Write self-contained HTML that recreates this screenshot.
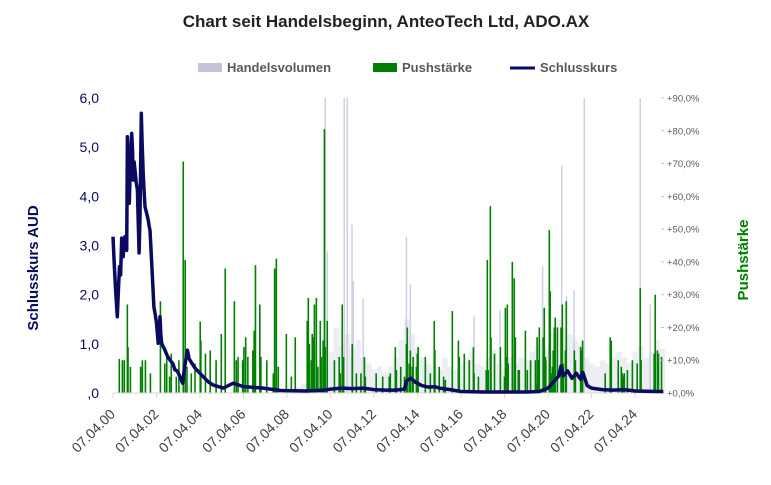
<!DOCTYPE html>
<html><head><meta charset="utf-8"><style>
body{margin:0;background:#fff;}
svg text{font-family:"Liberation Sans",sans-serif;}
</style></head><body>
<svg id="chart" width="771" height="480" viewBox="0 0 771 480" xmlns="http://www.w3.org/2000/svg">
<text x="386" y="27" text-anchor="middle" font-size="17" font-weight="bold" fill="#222">Chart seit Handelsbeginn, AnteoTech Ltd, ADO.AX</text>
<g font-size="13" font-weight="bold" fill="#595959">
<rect x="198" y="63" width="24" height="9" fill="#c4c3dc"/>
<text x="227" y="72">Handelsvolumen</text>
<rect x="373" y="63" width="24" height="9" fill="#008000"/>
<text x="402" y="72">Pushstärke</text>
<line x1="510" y1="68" x2="535" y2="68" stroke="#0a0a60" stroke-width="3"/>
<text x="540" y="72">Schlusskurs</text>
</g>
<text transform="translate(38,268) rotate(-90)" text-anchor="middle" font-size="15" font-weight="bold" fill="#0a0a60">Schlusskurs AUD</text>
<text transform="translate(748,260) rotate(-90)" text-anchor="middle" font-size="15" font-weight="bold" fill="#008000">Pushstärke</text>
<g id="vol"></g><g id="push"></g><g id="axes"></g><g id="price"></g>
</svg>
<script>
const xTickLabels=["07.04.00","07.04.02","07.04.04","07.04.06","07.04.08","07.04.10","07.04.12","07.04.14","07.04.16","07.04.18","07.04.20","07.04.22","07.04.24"];
const leftTicks=[0,1,2,3,4,5,6];
const leftTickLabels=[",0","1,0","2,0","3,0","4,0","5,0","6,0"];
const rightTicks=[0,10,20,30,40,50,60,70,80,90];
const priceYears=[0,0.06,0.12,0.2,0.25,0.3,0.35,0.4,0.44,0.47,0.51,0.55,0.6,0.63,0.66,0.7,0.75,0.8,0.86,0.9,0.93,0.97,1.01,1.06,1.12,1.16,1.2,1.24,1.3,1.34,1.39,1.43,1.47,1.55,1.62,1.66,1.7,1.74,1.78,1.83,1.88,1.94,2.0,2.04,2.08,2.12,2.16,2.2,2.24,2.3,2.39,2.5,2.62,2.75,2.85,2.95,3.08,3.2,3.3,3.42,3.5,3.62,3.75,3.85,4.0,4.15,4.4,4.61,5.07,5.53,5.99,6.9,7.7,8.9,9.7,10.0,10.5,11,11.5,12,12.5,13,13.4,13.5,13.7,13.9,14.2,14.5,14.8,15,15.5,16,17,18,19,19.6,20,20.3,20.5,20.6,20.7,20.9,21.1,21.3,21.5,21.6,21.8,22.0,22.5,23,23.5,24,25,25.3];
const priceValues=[3.18,2.6,2.09,1.55,2.09,2.57,2.4,3.15,2.9,2.77,3.1,3.18,2.95,2.9,5.21,4.6,3.86,4.7,5.28,4.9,4.33,4.7,4.53,4.3,4.13,3.5,2.85,3.59,5.69,5.1,4.47,4.1,3.79,3.65,3.52,3.4,3.31,3.0,2.64,2.2,1.75,1.6,1.42,1.2,1.01,1.3,1.55,1.2,1.01,0.95,0.87,0.75,0.67,0.6,0.47,0.45,0.33,0.2,0.55,0.87,0.7,0.61,0.52,0.47,0.4,0.33,0.22,0.16,0.1,0.2,0.13,0.1,0.05,0.04,0.06,0.08,0.1,0.09,0.1,0.07,0.06,0.06,0.08,0.25,0.3,0.22,0.15,0.12,0.13,0.1,0.07,0.03,0.02,0.02,0.02,0.03,0.1,0.25,0.35,0.55,0.35,0.45,0.3,0.4,0.28,0.42,0.15,0.1,0.07,0.06,0.07,0.04,0.03,0.03];
const pushYears=[0.29,0.43,0.52,0.66,0.69,0.8,1.27,1.35,1.49,1.72,2.18,2.38,2.47,2.6,2.68,2.91,3.03,3.23,3.32,3.4,3.6,3.77,4.01,4.04,4.25,4.47,4.74,4.98,5.16,5.58,5.67,5.75,5.96,6.02,6.1,6.2,6.43,6.49,6.55,6.75,6.8,7.07,7.37,7.43,7.51,7.6,7.97,8.2,8.38,8.93,8.98,9.03,9.12,9.16,9.2,9.26,9.35,9.42,9.53,9.58,9.66,9.72,9.76,9.85,10.18,10.4,10.45,10.54,10.6,11.0,11.19,11.4,11.56,11.6,12.1,12.4,12.7,12.75,12.98,13.03,13.23,13.4,13.49,13.53,13.62,13.67,13.76,13.8,13.95,13.99,14.03,14.36,14.59,14.77,14.8,15.0,15.2,15.28,15.6,15.88,15.92,16.15,16.38,16.57,16.6,16.8,17.16,17.21,17.25,17.35,17.38,17.54,17.81,18.0,18.04,18.08,18.13,18.17,18.36,18.45,18.5,18.63,18.68,18.96,19.05,19.2,19.42,19.47,19.5,19.56,19.6,19.78,19.83,19.88,19.9,20.06,20.1,20.15,20.2,20.24,20.29,20.33,20.43,20.6,20.66,20.7,20.8,20.84,21.21,21.26,21.5,21.55,21.59,22.63,22.86,22.91,23.23,23.37,23.42,23.46,23.51,23.65,23.88,24.1,24.24,24.28,24.88,24.93,25.03,25.08,25.22];
const pushValues=[10.4,10,10,27,14,8,8,10,10,6,28,9,12,5,12,5,10,70.6,40.6,8,6,9,21.8,16,12,13,10,18,38,28,10,11,10,14,17,11,13,19,39,27,11,10,6,38,41,8,18,5,17,22,29,15,10,18,17,27,29,8,22,11,16,80.5,14,22,10,11,6,27,11,15,6,6,11,5,6,5,5,6,14,7,8,5,15,20,9,13,8,11,8,12,14,11,6,22,13,8,5,4,25,16,11,12,10,14,6,5,7,40.6,7,57,17,12,14,5,26,11,27,9,40,35,17,7,7,19,7,10,10,3,17,10,20,17,26,11,10,49.7,31,6,8,13,20,23,20,20,27,9,13,28,13,10,14,13,16,6,17,16,10,8,6,5,6,7,10,9,32,10,12,30,13,12,11];
const volYears=[8.5,8.75,9,9.25,9.5,9.75,10,10.25,10.5,10.75,11,11.25,11.5,11.75,12,12.25,12.5,12.75,13,13.25,13.5,13.75,14,14.25,14.5,14.75,15,15.25,15.5,15.75,16,16.25,16.5,16.75,17,17.25,17.5,17.75,18,18.25,18.5,18.75,19,19.25,19.5,19.75,20,20.25,20.5,20.75,21,21.25,21.5,21.75,22,22.25,22.5,22.75,23,23.25,23.5,23.75,24,24.25,24.5,24.75,25,25.25];
const volValues=[2,3,4,6,10,18,14,22,16,20,15,18,12,10,8,9,7,9,12,18,25,20,15,12,10,9,8,12,9,8,10,12,14,10,9,12,15,10,8,12,10,12,11,14,16,18,15,20,25,22,20,18,16,12,10,9,11,10,12,14,12,10,14,16,12,14,18,15];
const volSpikeYears=[9.76,9.85,10.63,10.77,10.99,11.05,11.5,13.49,13.67,16.6,17.8,19.75,20.63,20.85,21.2,21.67,24.24,24.7];
const volSpikeValues=[100,48,100,100,57,38,32,53,37,26,28,43,77,33,35,100,100,30];

const NS="http://www.w3.org/2000/svg";
const X0=113,PXY=21.75,Y0=393,YTOP=98;
const xs=y=>X0+y*PXY;
const yPrice=v=>Y0-v/6*(Y0-YTOP);
const yPct=v=>Y0-v/90*(Y0-YTOP);
function mk(tag,attrs,parent){const e=document.createElementNS(NS,tag);for(const k in attrs)e.setAttribute(k,attrs[k]);parent.appendChild(e);return e;}
const axes=document.getElementById('axes'),vol=document.getElementById('vol'),push=document.getElementById('push'),price=document.getElementById('price');
volYears.forEach((yr,i)=>{const r=mk('rect',{x:xs(yr)-2.5,y:yPct(volValues[i]*0.9),width:5.5,height:Y0-yPct(volValues[i]*0.9),fill:'#c4c3dc',opacity:0.3},vol);

});
volSpikeYears.forEach((yr,i)=>{const r=mk('rect',{x:xs(yr)-0.75,y:yPct(volSpikeValues[i]*0.9),width:1.5,height:Y0-yPct(volSpikeValues[i]*0.9),fill:'#c4c3dc',opacity:0.8},vol);

});
pushYears.forEach((yr,i)=>{const r=mk('rect',{x:xs(yr)-0.8,y:yPct(pushValues[i]),width:1.6,height:Y0-yPct(pushValues[i]),fill:'#008000'},push);

});
const xl=mk('line',{x1:X0,y1:Y0,x2:663,y2:Y0,stroke:'#d9d9d9','stroke-width':1},axes);


xTickLabels.forEach((lab,i)=>{const x=X0+i*2*PXY;
mk('line',{x1:x,y1:Y0,x2:x,y2:Y0+5,stroke:'#d9d9d9'},axes);
const t=mk('text',{transform:`translate(${x+3},${Y0+22}) rotate(-45)`,'text-anchor':'end','font-size':'14',fill:'#404040'},axes);
t.textContent=lab;

});
leftTicks.forEach((v,i)=>{const t=mk('text',{x:99,y:yPrice(v)+5,'text-anchor':'end','font-size':'14',fill:'#0a0a60'},axes);
t.textContent=leftTickLabels[i];

});
rightTicks.forEach(v=>{const y=yPct(v);
mk('line',{x1:661,y1:y,x2:664,y2:y,stroke:'#bfbfbf'},axes);
const t=mk('text',{x:667,y:y+3.5,'font-size':'9.5',fill:'#595959'},axes);
t.textContent='+'+v+',0%';

});
const pts=priceYears.map((yr,i)=>xs(yr).toFixed(1)+','+yPrice(priceValues[i]).toFixed(1)).join(' ');
const pl=mk('polyline',{points:pts,fill:'none',stroke:'#0a0a60','stroke-width':3.5,'stroke-linejoin':'round'},price);


</script>
</body></html>
